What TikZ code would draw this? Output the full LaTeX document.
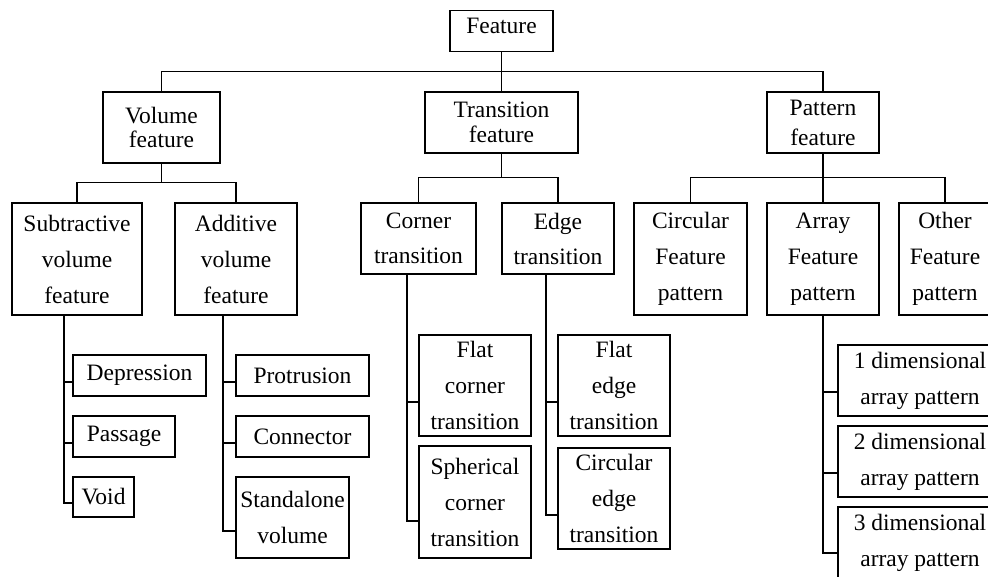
\documentclass[tikz,border=0pt]{standalone}
\usepackage{fontspec}
\setmainfont{Liberation Serif}

\begin{document}
\begin{tikzpicture}[x=1pt,y=-1pt,line width=1.5pt,
  box/.style={draw,inner sep=0pt,align=center,font=\fontsize{23.5}{36}\selectfont},
  tight/.style={box,font=\fontsize{23.5}{24.5}\selectfont}]
\clip (0,0) rectangle (988,576);

\node[box,minimum width=103pt,minimum height=41pt,text depth=10pt] (feat) at (501.5,31) {Feature};
\node[tight,minimum width=117pt,minimum height=71pt] (vol) at (161.5,127.5) {Volume\\feature};
\node[tight,minimum width=153pt,minimum height=61pt] (trans) at (501.5,122.5) {Transition\\feature};
\node[box,font=\fontsize{23.5}{30}\selectfont,minimum width=112pt,minimum height=61pt] (patt) at (823,122.5) {Pattern\\feature};

\node[box,minimum width=130pt,minimum height=112pt] (sub) at (77,259) {Subtractive\\volume\\feature};
\node[box,minimum width=122pt,minimum height=112pt] (add) at (236,259) {Additive\\volume\\feature};
\node[box,font=\fontsize{23.5}{35}\selectfont,minimum width=115pt,minimum height=71pt] (corner) at (418.5,238.5) {Corner\\transition};
\node[box,font=\fontsize{23.5}{35}\selectfont,minimum width=112pt,minimum height=71pt] (edge) at (558,238.5) {Edge\\transition};
\node[box,minimum width=113pt,minimum height=112pt] (circ) at (690.5,259) {Circular\\Feature\\pattern};
\node[box,minimum width=112pt,minimum height=112pt] (arr) at (823,259) {Array\\Feature\\pattern};
\node[box,minimum width=92pt,minimum height=112pt] (oth) at (945,259) {Other\\Feature\\pattern};

\node[box,minimum width=133pt,minimum height=41pt] (dep) at (139.5,375.5) {Depression};
\node[box,minimum width=102pt,minimum height=41pt] (pas) at (124,436.5) {Passage};
\node[box,minimum width=61pt,minimum height=40pt] (void) at (103.5,497) {Void};
\node[box,minimum width=133pt,minimum height=41pt] (prot) at (302.5,375.5) {Protrusion};
\node[box,minimum width=133pt,minimum height=41pt] (conn) at (302.5,436.5) {Connector};
\node[box,minimum width=113pt,minimum height=81pt] (stand) at (292.5,517.5) {Standalone\\volume};
\node[box,minimum width=112pt,minimum height=101pt] (flatc) at (475,385.5) {Flat\\corner\\transition};
\node[box,minimum width=112pt,minimum height=112pt] (sphc) at (475,502) {Spherical\\corner\\transition};
\node[box,minimum width=112pt,minimum height=101pt] (flate) at (614,385.5) {Flat\\edge\\transition};
\node[box,minimum width=112pt,minimum height=101pt] (circe) at (614,498.5) {Circular\\edge\\transition};
\node[box,minimum width=164pt,minimum height=71pt] (dim1) at (920,380.5) {1 dimensional\\array pattern};
\node[box,minimum width=164pt,minimum height=71pt] (dim2) at (920,461.5) {2 dimensional\\array pattern};
\node[box,minimum width=164pt,minimum height=71pt] (dim3) at (920,542.5) {3 dimensional\\array pattern};

\draw (vol.north) -- ++(0,-20) -| (patt.north);
\draw (feat) -- (trans);
\draw (sub.north) -- ++(0,-20) coordinate (vb) -| (add.north);
\draw (vol) -- (vol |- vb);
\draw (corner.north) -- ++(0,-25) coordinate (tb) -| (edge.north);
\draw (trans) -- (trans |- tb);
\draw (circ.north) -- ++(0,-25) -| (oth.north);
\draw (patt) -- (arr);

\foreach \n/\d in {dep/6.5,pas/6.5,void/6}
  \draw ([xshift=-13pt]sub.south) |- ([yshift=-\d pt]\n.west);
\foreach \n/\d in {prot/6.5,conn/6.5,stand/13.5}
  \draw ([xshift=-13pt]add.south) |- ([yshift=-\d pt]\n.west);
\foreach \n/\d in {flatc/16.5,sphc/19}
  \draw ([xshift=-11.5pt]corner.south) |- ([yshift=-\d pt]\n.west);
\foreach \n/\d in {flate/16.5,circe/16.5}
  \draw ([xshift=-12pt]edge.south) |- ([yshift=-\d pt]\n.west);
\foreach \n/\d in {dim1/11.5,dim2/11.5,dim3/10.5}
  \draw (arr.south) |- ([yshift=-\d pt]\n.west);
\end{tikzpicture}
\end{document}
